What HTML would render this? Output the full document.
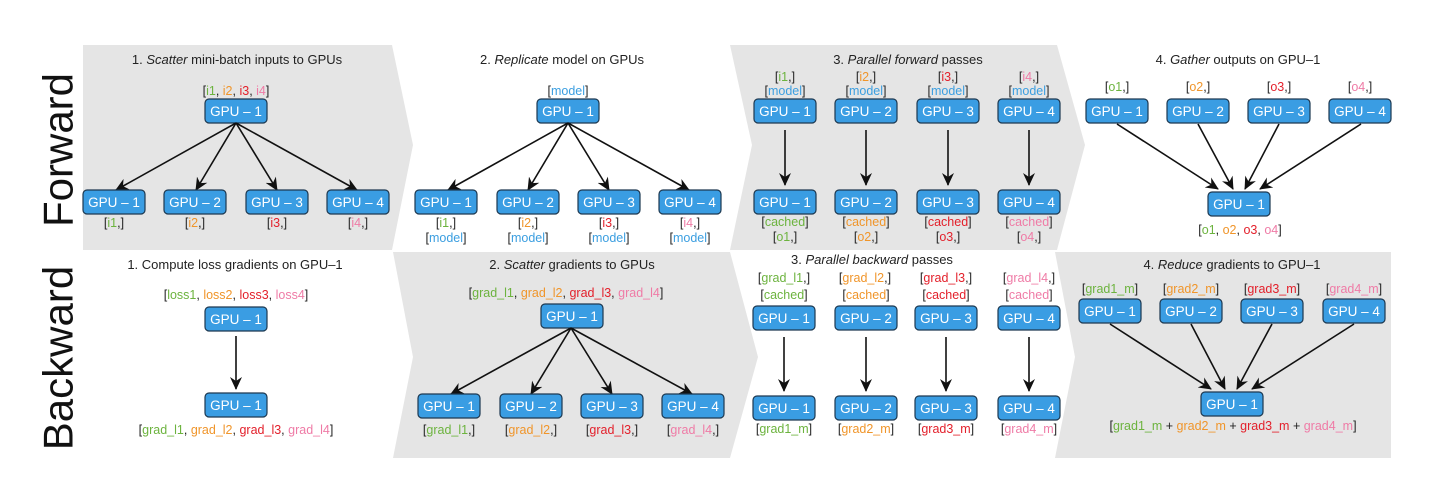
<!DOCTYPE html>
<html><head><meta charset="utf-8"><style>
html,body{margin:0;padding:0;background:#fff}
svg{display:block}
text{font-family:"Liberation Sans",Arial,sans-serif;fill:#222}
.t{font-size:13px}
.l{font-size:12.5px}
.g{fill:#6cb33e}.o{fill:#f0952a}.r{fill:#e3202b}.p{fill:#ef7ba6}.b{fill:#3b9ee0}
.box{fill:#3a9de3;stroke:#1d3850;stroke-width:1.2}
.bt{font-size:13.5px;fill:#fff}
.a{stroke:#111;stroke-width:1.6;fill:none;marker-end:url(#ah)}
</style></head><body>
<svg width="1442" height="479" viewBox="0 0 1442 479" xmlns="http://www.w3.org/2000/svg">
<defs>
<marker id="ah" markerUnits="userSpaceOnUse" markerWidth="14" markerHeight="14" refX="12" refY="7" orient="auto">
<path d="M0,1 L13,7 L0,13 L4,7 z" fill="#111"/>
</marker>
</defs>
<!-- gray panels -->
<polygon points="83,45 392,45 413,145 392,250 83,250" fill="#e5e5e5"/>
<polygon points="730,45 1057,45 1085,145 1057,250 730,250 752,145" fill="#e5e5e5"/>
<polygon points="393,252 730,252 758,357 730,458 393,458 413,357" fill="#e5e5e5"/>
<polygon points="1055,252 1391,252 1391,458 1055,458 1075,357" fill="#e5e5e5"/>

<text x="58" y="150" font-size="42" text-anchor="middle" dominant-baseline="central" transform="rotate(-90 58 150)" style="fill:#111">Forward</text>
<text x="58" y="358" font-size="42" text-anchor="middle" dominant-baseline="central" transform="rotate(-90 58 358)" style="fill:#111">Backward</text>

<!-- ============ TOP PANEL 1 ============ -->
<text class="t" x="237" y="64" text-anchor="middle">1. <tspan font-style="italic">Scatter</tspan> mini-batch inputs to GPUs</text>
<text class="l" x="236" y="95" text-anchor="middle">[<tspan class="g">i1</tspan>, <tspan class="o">i2</tspan>, <tspan class="r">i3</tspan>, <tspan class="p">i4</tspan>]</text>
<rect class="box" x="205" y="99" width="62" height="24" rx="4"/><text class="bt" x="236" y="116" text-anchor="middle">GPU – 1</text>
<line class="a" x1="236" y1="123" x2="116" y2="190"/>
<line class="a" x1="236" y1="123" x2="196" y2="190"/>
<line class="a" x1="236" y1="123" x2="277" y2="190"/>
<line class="a" x1="236" y1="123" x2="357" y2="190"/>
<rect class="box" x="83" y="190" width="62" height="24" rx="4"/><text class="bt" x="114" y="207" text-anchor="middle">GPU – 1</text>
<rect class="box" x="164" y="190" width="62" height="24" rx="4"/><text class="bt" x="195" y="207" text-anchor="middle">GPU – 2</text>
<rect class="box" x="246" y="190" width="62" height="24" rx="4"/><text class="bt" x="277" y="207" text-anchor="middle">GPU – 3</text>
<rect class="box" x="327" y="190" width="62" height="24" rx="4"/><text class="bt" x="358" y="207" text-anchor="middle">GPU – 4</text>
<text class="l" x="114" y="227" text-anchor="middle">[<tspan class="g">i1</tspan>,]</text>
<text class="l" x="195" y="227" text-anchor="middle">[<tspan class="o">i2</tspan>,]</text>
<text class="l" x="277" y="227" text-anchor="middle">[<tspan class="r">i3</tspan>,]</text>
<text class="l" x="358" y="227" text-anchor="middle">[<tspan class="p">i4</tspan>,]</text>

<!-- ============ TOP PANEL 2 ============ -->
<text class="t" x="562" y="64" text-anchor="middle">2. <tspan font-style="italic">Replicate</tspan> model on GPUs</text>
<text class="l" x="568" y="95" text-anchor="middle">[<tspan class="b">model</tspan>]</text>
<rect class="box" x="537" y="99" width="62" height="24" rx="4"/><text class="bt" x="568" y="116" text-anchor="middle">GPU – 1</text>
<line class="a" x1="568" y1="123" x2="448" y2="190"/>
<line class="a" x1="568" y1="123" x2="528" y2="190"/>
<line class="a" x1="568" y1="123" x2="609" y2="190"/>
<line class="a" x1="568" y1="123" x2="689" y2="190"/>
<rect class="box" x="415" y="190" width="62" height="24" rx="4"/><text class="bt" x="446" y="207" text-anchor="middle">GPU – 1</text>
<rect class="box" x="497" y="190" width="62" height="24" rx="4"/><text class="bt" x="528" y="207" text-anchor="middle">GPU – 2</text>
<rect class="box" x="578" y="190" width="62" height="24" rx="4"/><text class="bt" x="609" y="207" text-anchor="middle">GPU – 3</text>
<rect class="box" x="659" y="190" width="62" height="24" rx="4"/><text class="bt" x="690" y="207" text-anchor="middle">GPU – 4</text>
<text class="l" x="446" y="227" text-anchor="middle">[<tspan class="g">i1</tspan>,]</text>
<text class="l" x="528" y="227" text-anchor="middle">[<tspan class="o">i2</tspan>,]</text>
<text class="l" x="609" y="227" text-anchor="middle">[<tspan class="r">i3</tspan>,]</text>
<text class="l" x="690" y="227" text-anchor="middle">[<tspan class="p">i4</tspan>,]</text>
<text class="l" x="446" y="242" text-anchor="middle">[<tspan class="b">model</tspan>]</text>
<text class="l" x="528" y="242" text-anchor="middle">[<tspan class="b">model</tspan>]</text>
<text class="l" x="609" y="242" text-anchor="middle">[<tspan class="b">model</tspan>]</text>
<text class="l" x="690" y="242" text-anchor="middle">[<tspan class="b">model</tspan>]</text>

<!-- ============ TOP PANEL 3 ============ -->
<text class="t" x="908" y="64" text-anchor="middle">3. <tspan font-style="italic">Parallel forward</tspan> passes</text>
<text class="l" x="785" y="81" text-anchor="middle">[<tspan class="g">i1</tspan>,]</text>
<text class="l" x="866" y="81" text-anchor="middle">[<tspan class="o">i2</tspan>,]</text>
<text class="l" x="948" y="81" text-anchor="middle">[<tspan class="r">i3</tspan>,]</text>
<text class="l" x="1029" y="81" text-anchor="middle">[<tspan class="p">i4</tspan>,]</text>
<text class="l" x="785" y="95" text-anchor="middle">[<tspan class="b">model</tspan>]</text>
<text class="l" x="866" y="95" text-anchor="middle">[<tspan class="b">model</tspan>]</text>
<text class="l" x="948" y="95" text-anchor="middle">[<tspan class="b">model</tspan>]</text>
<text class="l" x="1029" y="95" text-anchor="middle">[<tspan class="b">model</tspan>]</text>
<rect class="box" x="754" y="99" width="62" height="24" rx="4"/><text class="bt" x="785" y="116" text-anchor="middle">GPU – 1</text>
<rect class="box" x="835" y="99" width="62" height="24" rx="4"/><text class="bt" x="866" y="116" text-anchor="middle">GPU – 2</text>
<rect class="box" x="917" y="99" width="62" height="24" rx="4"/><text class="bt" x="948" y="116" text-anchor="middle">GPU – 3</text>
<rect class="box" x="998" y="99" width="62" height="24" rx="4"/><text class="bt" x="1029" y="116" text-anchor="middle">GPU – 4</text>
<line class="a" x1="785" y1="130" x2="785" y2="185"/>
<line class="a" x1="866" y1="130" x2="866" y2="185"/>
<line class="a" x1="948" y1="130" x2="948" y2="185"/>
<line class="a" x1="1029" y1="130" x2="1029" y2="185"/>
<rect class="box" x="754" y="190" width="62" height="24" rx="4"/><text class="bt" x="785" y="207" text-anchor="middle">GPU – 1</text>
<rect class="box" x="835" y="190" width="62" height="24" rx="4"/><text class="bt" x="866" y="207" text-anchor="middle">GPU – 2</text>
<rect class="box" x="917" y="190" width="62" height="24" rx="4"/><text class="bt" x="948" y="207" text-anchor="middle">GPU – 3</text>
<rect class="box" x="998" y="190" width="62" height="24" rx="4"/><text class="bt" x="1029" y="207" text-anchor="middle">GPU – 4</text>
<text class="l" x="785" y="226" text-anchor="middle">[<tspan class="g">cached</tspan>]</text>
<text class="l" x="866" y="226" text-anchor="middle">[<tspan class="o">cached</tspan>]</text>
<text class="l" x="948" y="226" text-anchor="middle">[<tspan class="r">cached</tspan>]</text>
<text class="l" x="1029" y="226" text-anchor="middle">[<tspan class="p">cached</tspan>]</text>
<text class="l" x="785" y="241" text-anchor="middle">[<tspan class="g">o1</tspan>,]</text>
<text class="l" x="866" y="241" text-anchor="middle">[<tspan class="o">o2</tspan>,]</text>
<text class="l" x="948" y="241" text-anchor="middle">[<tspan class="r">o3</tspan>,]</text>
<text class="l" x="1029" y="241" text-anchor="middle">[<tspan class="p">o4</tspan>,]</text>

<!-- ============ TOP PANEL 4 ============ -->
<text class="t" x="1238" y="64" text-anchor="middle">4. <tspan font-style="italic">Gather</tspan> outputs on GPU–1</text>
<text class="l" x="1117" y="91" text-anchor="middle">[<tspan class="g">o1</tspan>,]</text>
<text class="l" x="1198" y="91" text-anchor="middle">[<tspan class="o">o2</tspan>,]</text>
<text class="l" x="1279" y="91" text-anchor="middle">[<tspan class="r">o3</tspan>,]</text>
<text class="l" x="1360" y="91" text-anchor="middle">[<tspan class="p">o4</tspan>,]</text>
<rect class="box" x="1086" y="99" width="62" height="24" rx="4"/><text class="bt" x="1117" y="116" text-anchor="middle">GPU – 1</text>
<rect class="box" x="1167" y="99" width="62" height="24" rx="4"/><text class="bt" x="1198" y="116" text-anchor="middle">GPU – 2</text>
<rect class="box" x="1248" y="99" width="62" height="24" rx="4"/><text class="bt" x="1279" y="116" text-anchor="middle">GPU – 3</text>
<rect class="box" x="1329" y="99" width="62" height="24" rx="4"/><text class="bt" x="1360" y="116" text-anchor="middle">GPU – 4</text>
<line class="a" x1="1117" y1="124" x2="1218" y2="189"/>
<line class="a" x1="1198" y1="124" x2="1233" y2="189"/>
<line class="a" x1="1279" y1="124" x2="1245" y2="189"/>
<line class="a" x1="1361" y1="124" x2="1260" y2="189"/>
<rect class="box" x="1208" y="192" width="62" height="24" rx="4"/><text class="bt" x="1239" y="209" text-anchor="middle">GPU – 1</text>
<text class="l" x="1240" y="234" text-anchor="middle">[<tspan class="g">o1</tspan>, <tspan class="o">o2</tspan>, <tspan class="r">o3</tspan>, <tspan class="p">o4</tspan>]</text>

<!-- ============ BOTTOM PANEL 1 ============ -->
<text class="t" x="235" y="269" text-anchor="middle">1. Compute loss gradients on GPU–1</text>
<text class="l" x="236" y="299" text-anchor="middle">[<tspan class="g">loss1</tspan>, <tspan class="o">loss2</tspan>, <tspan class="r">loss3</tspan>, <tspan class="p">loss4</tspan>]</text>
<rect class="box" x="205" y="307" width="62" height="24" rx="4"/><text class="bt" x="236" y="324" text-anchor="middle">GPU – 1</text>
<line class="a" x1="236" y1="336" x2="236" y2="389"/>
<rect class="box" x="205" y="393" width="62" height="24" rx="4"/><text class="bt" x="236" y="410" text-anchor="middle">GPU – 1</text>
<text class="l" x="236" y="434" text-anchor="middle">[<tspan class="g">grad_l1</tspan>, <tspan class="o">grad_l2</tspan>, <tspan class="r">grad_l3</tspan>, <tspan class="p">grad_l4</tspan>]</text>

<!-- ============ BOTTOM PANEL 2 ============ -->
<text class="t" x="572" y="269" text-anchor="middle">2. <tspan font-style="italic">Scatter</tspan> gradients to GPUs</text>
<text class="l" x="566" y="297" text-anchor="middle">[<tspan class="g">grad_l1</tspan>, <tspan class="o">grad_l2</tspan>, <tspan class="r">grad_l3</tspan>, <tspan class="p">grad_l4</tspan>]</text>
<rect class="box" x="541" y="304" width="62" height="24" rx="4"/><text class="bt" x="572" y="321" text-anchor="middle">GPU – 1</text>
<line class="a" x1="571" y1="328" x2="451" y2="394"/>
<line class="a" x1="571" y1="328" x2="531" y2="394"/>
<line class="a" x1="571" y1="328" x2="612" y2="394"/>
<line class="a" x1="571" y1="328" x2="692" y2="394"/>
<rect class="box" x="418" y="394" width="62" height="24" rx="4"/><text class="bt" x="449" y="411" text-anchor="middle">GPU – 1</text>
<rect class="box" x="500" y="394" width="62" height="24" rx="4"/><text class="bt" x="531" y="411" text-anchor="middle">GPU – 2</text>
<rect class="box" x="581" y="394" width="62" height="24" rx="4"/><text class="bt" x="612" y="411" text-anchor="middle">GPU – 3</text>
<rect class="box" x="662" y="394" width="62" height="24" rx="4"/><text class="bt" x="693" y="411" text-anchor="middle">GPU – 4</text>
<text class="l" x="449" y="434" text-anchor="middle">[<tspan class="g">grad_l1</tspan>,]</text>
<text class="l" x="531" y="434" text-anchor="middle">[<tspan class="o">grad_l2</tspan>,]</text>
<text class="l" x="612" y="434" text-anchor="middle">[<tspan class="r">grad_l3</tspan>,]</text>
<text class="l" x="693" y="434" text-anchor="middle">[<tspan class="p">grad_l4</tspan>,]</text>

<!-- ============ BOTTOM PANEL 3 ============ -->
<text class="t" x="872" y="264" text-anchor="middle">3. <tspan font-style="italic">Parallel backward</tspan> passes</text>
<text class="l" x="784" y="282" text-anchor="middle">[<tspan class="g">grad_l1</tspan>,]</text>
<text class="l" x="865" y="282" text-anchor="middle">[<tspan class="o">grad_l2</tspan>,]</text>
<text class="l" x="946" y="282" text-anchor="middle">[<tspan class="r">grad_l3</tspan>,]</text>
<text class="l" x="1029" y="282" text-anchor="middle">[<tspan class="p">grad_l4</tspan>,]</text>
<text class="l" x="784" y="299" text-anchor="middle">[<tspan class="g">cached</tspan>]</text>
<text class="l" x="866" y="299" text-anchor="middle">[<tspan class="o">cached</tspan>]</text>
<text class="l" x="946" y="299" text-anchor="middle">[<tspan class="r">cached</tspan>]</text>
<text class="l" x="1029" y="299" text-anchor="middle">[<tspan class="p">cached</tspan>]</text>
<rect class="box" x="753" y="306" width="62" height="24" rx="4"/><text class="bt" x="784" y="323" text-anchor="middle">GPU – 1</text>
<rect class="box" x="835" y="306" width="62" height="24" rx="4"/><text class="bt" x="866" y="323" text-anchor="middle">GPU – 2</text>
<rect class="box" x="915" y="306" width="62" height="24" rx="4"/><text class="bt" x="946" y="323" text-anchor="middle">GPU – 3</text>
<rect class="box" x="998" y="306" width="62" height="24" rx="4"/><text class="bt" x="1029" y="323" text-anchor="middle">GPU – 4</text>
<line class="a" x1="784" y1="337" x2="784" y2="391"/>
<line class="a" x1="866" y1="337" x2="866" y2="391"/>
<line class="a" x1="946" y1="337" x2="946" y2="391"/>
<line class="a" x1="1029" y1="337" x2="1029" y2="391"/>
<rect class="box" x="753" y="396" width="62" height="24" rx="4"/><text class="bt" x="784" y="413" text-anchor="middle">GPU – 1</text>
<rect class="box" x="835" y="396" width="62" height="24" rx="4"/><text class="bt" x="866" y="413" text-anchor="middle">GPU – 2</text>
<rect class="box" x="915" y="396" width="62" height="24" rx="4"/><text class="bt" x="946" y="413" text-anchor="middle">GPU – 3</text>
<rect class="box" x="998" y="396" width="62" height="24" rx="4"/><text class="bt" x="1029" y="413" text-anchor="middle">GPU – 4</text>
<text class="l" x="784" y="433" text-anchor="middle">[<tspan class="g">grad1_m</tspan>]</text>
<text class="l" x="866" y="433" text-anchor="middle">[<tspan class="o">grad2_m</tspan>]</text>
<text class="l" x="946" y="433" text-anchor="middle">[<tspan class="r">grad3_m</tspan>]</text>
<text class="l" x="1029" y="433" text-anchor="middle">[<tspan class="p">grad4_m</tspan>]</text>

<!-- ============ BOTTOM PANEL 4 ============ -->
<text class="t" x="1232" y="269" text-anchor="middle">4. <tspan font-style="italic">Reduce</tspan> gradients to GPU–1</text>
<text class="l" x="1110" y="293" text-anchor="middle">[<tspan class="g">grad1_m</tspan>]</text>
<text class="l" x="1191" y="293" text-anchor="middle">[<tspan class="o">grad2_m</tspan>]</text>
<text class="l" x="1272" y="293" text-anchor="middle">[<tspan class="r">grad3_m</tspan>]</text>
<text class="l" x="1354" y="293" text-anchor="middle">[<tspan class="p">grad4_m</tspan>]</text>
<rect class="box" x="1079" y="299" width="62" height="24" rx="4"/><text class="bt" x="1110" y="316" text-anchor="middle">GPU – 1</text>
<rect class="box" x="1160" y="299" width="62" height="24" rx="4"/><text class="bt" x="1191" y="316" text-anchor="middle">GPU – 2</text>
<rect class="box" x="1241" y="299" width="62" height="24" rx="4"/><text class="bt" x="1272" y="316" text-anchor="middle">GPU – 3</text>
<rect class="box" x="1323" y="299" width="62" height="24" rx="4"/><text class="bt" x="1354" y="316" text-anchor="middle">GPU – 4</text>
<line class="a" x1="1110" y1="324" x2="1211" y2="389"/>
<line class="a" x1="1191" y1="324" x2="1225" y2="389"/>
<line class="a" x1="1272" y1="324" x2="1237" y2="389"/>
<line class="a" x1="1354" y1="324" x2="1252" y2="389"/>
<rect class="box" x="1201" y="392" width="62" height="24" rx="4"/><text class="bt" x="1232" y="409" text-anchor="middle">GPU – 1</text>
<text class="l" x="1233" y="430" text-anchor="middle">[<tspan class="g">grad1_m</tspan> + <tspan class="o">grad2_m</tspan> + <tspan class="r">grad3_m</tspan> + <tspan class="p">grad4_m</tspan>]</text>
</svg>
</body></html>
